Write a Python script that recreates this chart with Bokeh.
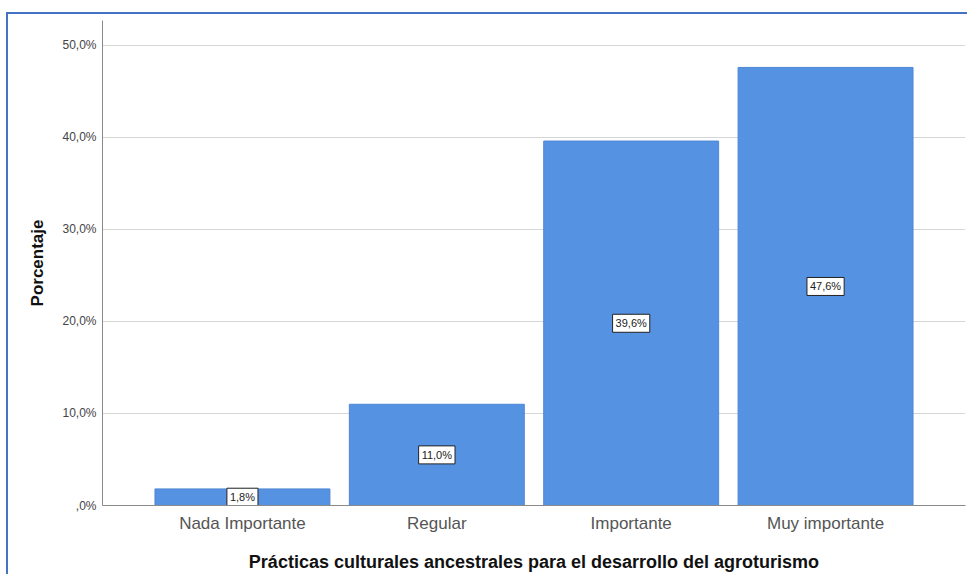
from bokeh.plotting import figure
from bokeh.models import ColumnDataSource, FactorRange, Range1d, FixedTicker
from bokeh.core.properties import value
from bokeh.embed import file_html
from bokeh.resources import INLINE

categories = ["Nada Importante", "Regular", "Importante", "Muy importante"]
values = [1.8, 11.0, 39.6, 47.6]
labels = ["1,8%", "11,0%", "39,6%", "47,6%"]
y_ticks = [0, 10, 20, 30, 40, 50]
y_tick_labels = [",0%", "10,0%", "20,0%", "30,0%", "40,0%", "50,0%"]

src = ColumnDataSource(dict(cat=categories, val=values, mid=[v / 2 for v in values], lab=labels))

FONT = "Liberation Sans"

p = figure(
    x_range=FactorRange(factors=categories, range_padding=0.22, range_padding_units="absolute"),
    y_range=Range1d(0, 52.7),
    frame_width=863, frame_height=485,
    min_border_left=94, min_border_top=6, min_border_right=2, min_border_bottom=64,
    output_backend="svg", toolbar_location=None,
    background_fill_color="white", border_fill_color="white",
)
p.styles = {"border-top": "2px solid #4472c4", "border-left": "2px solid #4472c4", "margin-top": "12px", "margin-left": "6px"}
p.outline_line_color = None

p.vbar(x="cat", top="val", width=0.9, source=src, fill_color="#5592e2", line_color="#4d86d4", line_width=1)

p.text(x="cat", y="mid", text="lab", source=src, text_align="center", text_baseline="middle",
       text_font=value(FONT), text_font_size="11px", text_color="#222222",
       background_fill_color="white", border_line_color="#222222", border_line_width=1,
       padding=3)

p.xgrid.grid_line_color = None
p.ygrid.grid_line_color = "#d6d6d6"
p.ygrid.grid_line_width = 1

p.yaxis.ticker = FixedTicker(ticks=y_ticks)
p.yaxis.major_label_overrides = {t: l for t, l in zip(y_ticks, y_tick_labels)}
p.yaxis.major_tick_out = 0
p.yaxis.major_tick_in = 0
p.yaxis.minor_tick_out = 0
p.yaxis.minor_tick_in = 0
p.yaxis.axis_line_color = "#8a8a8a"
p.yaxis.major_label_text_font = FONT
p.yaxis.major_label_text_font_size = "12px"
p.yaxis.major_label_text_color = "#444444"
p.yaxis.major_label_standoff = 6
p.yaxis.axis_label = "Porcentaje"
p.yaxis.axis_label_text_font = FONT
p.yaxis.axis_label_text_font_style = "bold"
p.yaxis.axis_label_text_font_size = "17px"
p.yaxis.axis_label_text_color = "#111111"
p.yaxis.axis_label_standoff = 12

p.xaxis.major_tick_out = 0
p.xaxis.major_tick_in = 0
p.xaxis.axis_line_color = "#8a8a8a"
p.xaxis.major_label_text_font = FONT
p.xaxis.major_label_text_font_size = "17px"
p.xaxis.major_label_text_color = "#555555"
p.xaxis.major_label_standoff = 8
p.xaxis.axis_label = "Prácticas culturales ancestrales para el desarrollo del agroturismo"
p.xaxis.axis_label_text_font = FONT
p.xaxis.axis_label_text_font_style = "bold"
p.xaxis.axis_label_text_font_size = "18px"
p.xaxis.axis_label_text_color = "#111111"
p.xaxis.axis_label_standoff = 16

open("out.html", "w").write(file_html(p, INLINE))
